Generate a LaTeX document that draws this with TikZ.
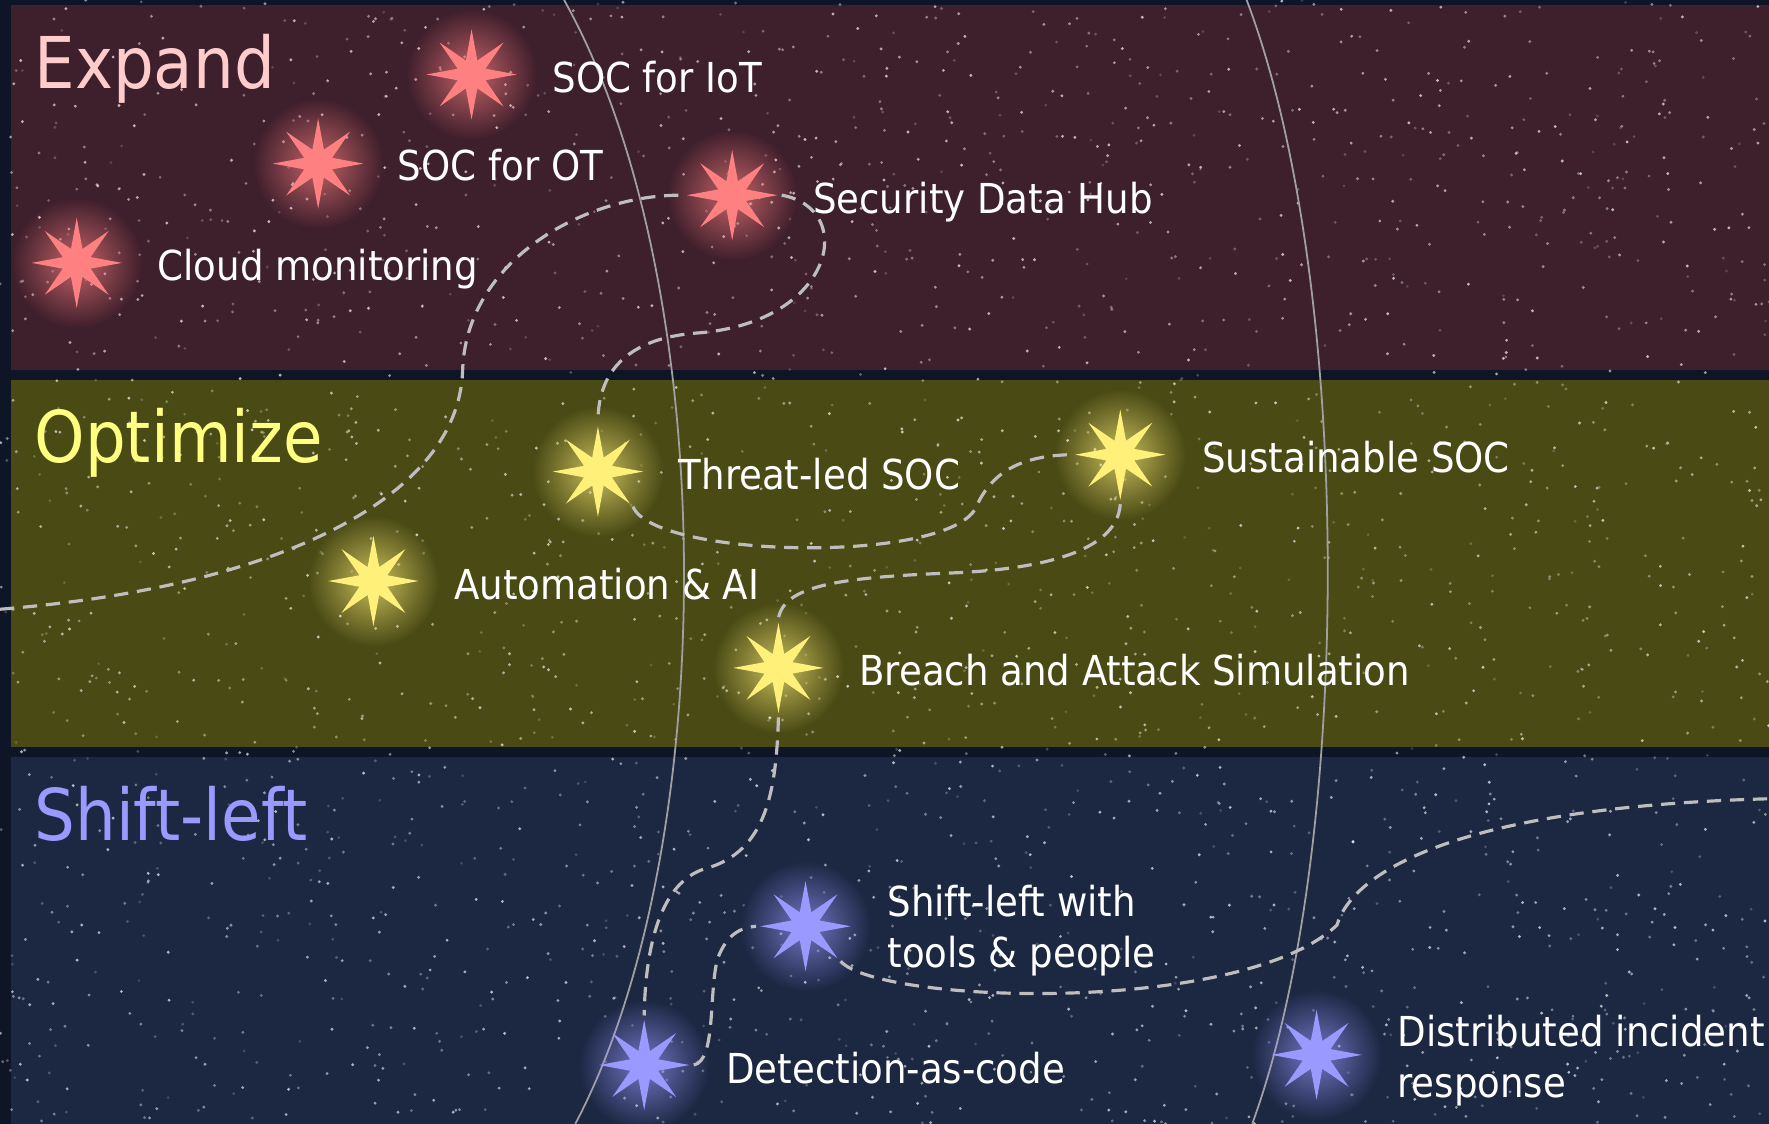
\documentclass[tikz,border=0pt]{standalone}
\usepackage{fontspec}
\setmainfont{DejaVu Sans Condensed}
\usetikzlibrary{shapes.geometric,fadings}

\definecolor{nightbg}{HTML}{0D1527}
\definecolor{expandbg}{HTML}{3E1F2C}
\definecolor{optimizebg}{HTML}{4A4A15}
\definecolor{shiftbg}{HTML}{1C2742}
\definecolor{expandstar}{HTML}{FF8080}
\definecolor{optimizestar}{HTML}{FFF07A}
\definecolor{shiftstar}{HTML}{9999FF}
\definecolor{expandtitle}{HTML}{FFCCCC}
\definecolor{optimizetitle}{HTML}{FFFF80}
\definecolor{pathgray}{HTML}{BEBEBE}
\definecolor{arcgray}{HTML}{A0A0A0}

\pgfdeclarelayer{back}
\pgfdeclarelayer{glow}
\pgfsetlayers{back,glow,main}

\tikzfading[name=glowfade, inner color=transparent!30, outer color=transparent!100]

\begin{document}
\begin{tikzpicture}[x=0.01cm, y=-0.01cm,
    spark/.style={star, star points=8, star point ratio=3, minimum size=0.8cm, inner sep=0pt, draw=none},
    title/.style={anchor=base west, inner sep=0pt, font=\fontsize{18}{20}\selectfont},
    label/.style={anchor=base west, inner sep=0pt, text=white, font=\fontsize{10.4}{12.8}\selectfont},
    trail/.style={draw=pathgray, line width=0.8pt, dash pattern=on 3.6pt off 2.2pt},
    arc/.style={draw=arcgray, line width=0.45pt}]
    \useasboundingbox (0,0) rectangle (1568,996);

    \begin{pgfonlayer}{back}
    % Sky and bands
    \fill[nightbg] (0,0) rectangle (1568,996);
    \fill[expandbg] (10,4) rectangle (1568,328);
    \fill[optimizebg] (10,337) rectangle (1568,662);
    \fill[shiftbg] (10,671) rectangle (1568,996);

    % Starfield
    \pgfmathsetseed{42}
    \foreach \i in {1,...,2600} {
        \pgfmathsetmacro\dotop{0.15+0.55*rnd}
        \fill[white, opacity=\dotop] ({rnd*1568},{rnd*996}) circle (0.4pt);
    }

    % Orbits
    \draw[arc] (500,0) .. controls (640,250) and (640,750) .. (510,996);
    \draw[arc] (1105,0) .. controls (1200,250) and (1200,750) .. (1110,996);
    \end{pgfonlayer}

    % Titles
    \node[title, text=expandtitle] (expand) at (30,78) {Expand};
    \node[title, text=optimizetitle] (optimize) at (30,410) {Optimize};
    \node[title, text=shiftstar] (shiftleft) at (30,745) {Shift-left};

    % Expand stars
    \node[spark, fill=expandstar] (iot) at (418,66) {};
    \node[spark, fill=expandstar] (ot) at (282,145) {};
    \node[spark, fill=expandstar] (cloud) at (68,233) {};
    \node[spark, fill=expandstar] (hub) at (649,173) {};

    % Optimize stars
    \node[spark, fill=optimizestar] (threat) at (530,418) {};
    \node[spark, fill=optimizestar] (green) at (993,403) {};
    \node[spark, fill=optimizestar] (auto) at (331,515) {};
    \node[spark, fill=optimizestar] (bas) at (690,592) {};

    % Shift-left stars
    \node[spark, fill=shiftstar] (people) at (714,821) {};
    \node[spark, fill=shiftstar] (dac) at (571,944) {};
    \node[spark, fill=shiftstar] (dir) at (1167,935) {};

    % Glows
    \begin{pgfonlayer}{glow}
    \foreach \s/\c in {iot/expandstar, ot/expandstar, cloud/expandstar, hub/expandstar,
                       threat/optimizestar, green/optimizestar, auto/optimizestar, bas/optimizestar,
                       people/shiftstar, dac/shiftstar, dir/shiftstar}
        \fill[\c, path fading=glowfade] (\s) circle (0.58cm);
    \end{pgfonlayer}

    % Labels
    \node[label] (iotlabel) at (489,82) {SOC for IoT};
    \node[label] (otlabel) at (352,160) {SOC for OT};
    \node[label] (cloudlabel) at (139,249) {Cloud monitoring};
    \node[label] (hublabel) at (720,189) {Security Data Hub};
    \node[label] (threatlabel) at (601,434) {Threat-led SOC};
    \node[label] (greenlabel) at (1065,419) {Sustainable SOC};
    \node[label] (autolabel) at (402,531) {Automation \& AI};
    \node[label] (baslabel) at (761,608) {Breach and Attack Simulation};
    \node[label, anchor=west, align=left] (peoplelabel) at (786,825) {Shift-left with\\tools \& people};
    \node[label] (daclabel) at (643,960) {Detection-as-code};
    \node[label, anchor=west, align=left] (dirlabel) at (1238,940) {Distributed incident\\response};

    % Journey
    \coordinate (start) at (0,540);
    \coordinate (finish) at (1568,708);
    \draw[trail] (start) .. controls (250,520) and (405,440) .. (410,330)
        .. controls (412,230) and (520,172) .. (hub.west);
    \draw[trail] (hub.east) .. controls (760,185) and (740,285) .. (620,295)
        .. controls (545,300) and (530,340) .. (threat.north);
    \draw[trail] (threat.-45) .. controls (580,495) and (840,500) .. (865,450)
        .. controls (880,415) and (910,404) .. (green.west);
    \draw[trail] (green.south) .. controls (990,490) and (920,505) .. (840,508)
        .. controls (740,512) and (695,520) .. (bas.north);
    \draw[trail] (bas.south) .. controls (688,700) and (680,755) .. (625,770)
        .. controls (585,782) and (572,840) .. (dac.north);
    \draw[trail] (dac.east) .. controls (635,940) and (628,880) .. (636,850)
        .. controls (645,825) and (660,822) .. (people.west);
    \draw[trail] (people.-45) .. controls (780,890) and (1100,900) .. (1185,820)
        .. controls (1200,770) and (1300,715) .. (finish);
\end{tikzpicture}
\end{document}
